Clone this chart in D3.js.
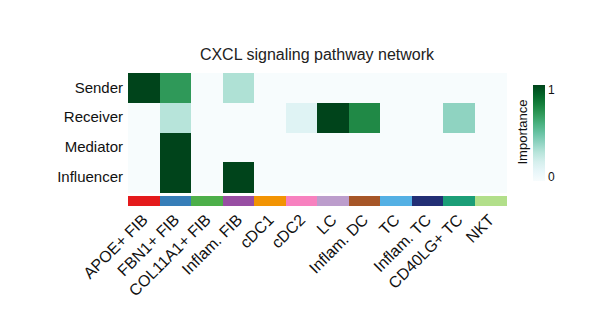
<!DOCTYPE html>
<html lang="en">
<head>
<meta charset="UTF-8">
<title>CXCL signaling pathway network</title>
<script src="https://cdn.jsdelivr.net/npm/d3@7"></script>
<style>
  body{margin:0;background:#fff;font-family:"Liberation Sans",Arial,sans-serif;}
</style>
</head>
<body>
<div id="chart"></div>
<script>
// data
const cellTypes=['APOE+ FIB','FBN1+ FIB','COL11A1+ FIB','Inflam. FIB','cDC1','cDC2','LC','Inflam. DC','TC','Inflam. TC','CD40LG+ TC','NKT']
const roles=['Sender','Receiver','Mediator','Influencer']
const sender    =[1,0.7,0,0.32,0,0,0,0,0,0,0,0]
const receiver  =[0,0.3,0,0,0,0.15,1,0.76,0,0,0.4,0]
const mediator  =[0,1,0,0,0,0,0,0,0,0,0,0]
const influencer=[0,1,0,1,0,0,0,0,0,0,0,0]
const groupColors=['#E41A1C','#377EB8','#4DAF4A','#984EA3','#F29403','#F781BF','#BC9DCC','#A65628','#54B0E4','#222F75','#1B9E77','#B2DF8A']
const legendTicks=[0,1]

const rows=[sender,receiver,mediator,influencer]
const cells=[]
rows.forEach((r,i)=>r.forEach((v,j)=>cells.push({role:roles[i],cell:cellTypes[j],v:v})))

const W=616,H=333
const font='"Liberation Sans",Arial,sans-serif'
const svg=d3.select('#chart').append('svg').attr('width',W).attr('height',H)

let x=d3.scaleBand().domain(cellTypes).range([128,506])
let y=d3.scaleBand().domain(roles).range([73,192])
let color=d3.scaleSequential(d3.interpolateBuGn).domain([0,1])

// title
svg.append('text').attr('x',317).attr('y',60).attr('text-anchor','middle')
    .attr('font-size',16).attr('fill','#222').text('CXCL signaling pathway network')

// heatmap
svg.append('g').attr('shape-rendering','crispEdges').selectAll('rect').data(cells).join('rect')
    .attr('x',d=>x(d.cell)).attr('y',d=>y(d.role))
    .attr('width',x.bandwidth()+0.5).attr('height',y.bandwidth()+0.5)
    .attr('fill',d=>color(d.v))

// annotation strip
svg.append('g').attr('shape-rendering','crispEdges').selectAll('rect').data(cellTypes).join('rect')
    .attr('x',d=>x(d)).attr('y',196).attr('width',x.bandwidth()+0.5).attr('height',10)
    .attr('fill',(d,i)=>groupColors[i])

// y labels
let yAxis=d3.axisLeft(y).tickSize(0).tickPadding(5)
let gy=svg.append('g').attr('transform','translate(128,0)').call(yAxis)
gy.select('.domain').remove()
gy.selectAll('text').attr('font-size',15).attr('font-family',font).attr('fill','#111')

// x labels
svg.append('g').selectAll('text').data(cellTypes).join('text')
    .attr('transform',d=>'translate('+(x(d)+x.bandwidth()/2+5)+',221) rotate(-45)')
    .attr('text-anchor','end').attr('font-size',16).attr('fill','#111').text(d=>d)

// legend
let defs=svg.append('defs')
let grad=defs.append('linearGradient').attr('id','lg').attr('x1',0).attr('y1',1).attr('x2',0).attr('y2',0)
d3.range(0,1.01,0.1).forEach(t=>grad.append('stop').attr('offset',t).attr('stop-color',color(t)))
let ly=d3.scaleLinear().domain([0,1]).range([181,85])
svg.append('rect').attr('x',533).attr('y',ly(1)).attr('width',12).attr('height',ly(0)-ly(1)).attr('fill','url(#lg)')
svg.append('g').selectAll('text').data(legendTicks).join('text')
    .attr('x',548).attr('y',d=>ly(d)+(d===1?9:0)).attr('font-size',12).attr('fill','#111').text(d=>d)
svg.append('text').attr('transform','translate(527,132) rotate(-90)').attr('text-anchor','middle')
    .attr('font-size',13).attr('fill','#111').text('Importance')
</script>
</body>
</html>
